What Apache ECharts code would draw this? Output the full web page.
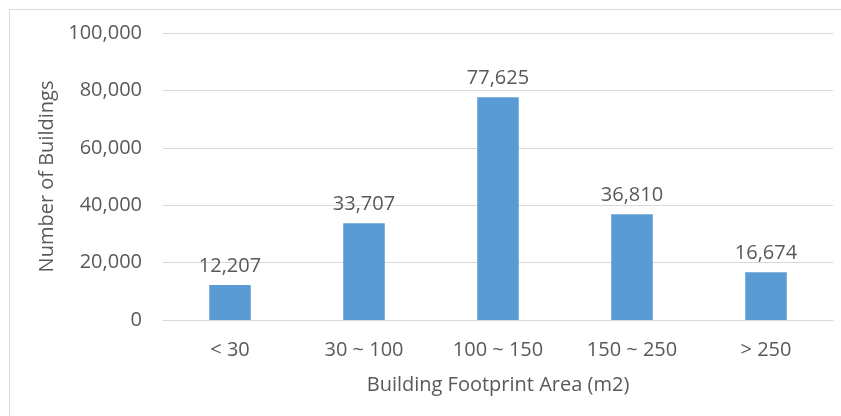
<!DOCTYPE html>
<html>
<head>
<meta charset="utf-8">
<script src="https://cdn.jsdelivr.net/npm/echarts@6/dist/echarts.min.js"></script>
<style>
  html, body { margin: 0; padding: 0; background: #fff; }
  #chart { width: 841px; height: 416px; }
</style>
</head>
<body>
<div id="chart"></div>
<script>
var categories = ['< 30', '30 ~ 100', '100 ~ 150', '150 ~ 250', '> 250'];
var buildingCounts = [12207, 33707, 77625, 36810, 16674];
var yTicks = { min: 0, max: 100000, interval: 20000 };

var textColor = '#595959';
var fontFamily = '"Open Sans", "Noto Sans", sans-serif';

var myChart = echarts.init(document.getElementById('chart'));

var option = {
    animation: false,
    backgroundColor: '#fff',
    textStyle: { fontFamily: fontFamily, color: textColor },
    graphic: [{
        type: 'rect',
        shape: { x: 9.5, y: 9.5, width: 840, height: 420 },
        style: { fill: 'none', stroke: '#d9d9d9', lineWidth: 1 },
        silent: true
    }],
    grid: { left: 163, right: 8, top: 33, bottom: 96, containLabel: false },
    xAxis: {
        type: 'category',
        data: categories,
        name: 'Building Footprint Area (m2)',
        nameLocation: 'middle',
        nameGap: 55,
        nameTextStyle: { fontSize: 20, color: textColor, fontFamily: fontFamily },
        axisLine: { lineStyle: { color: '#d9d9d9', width: 1 } },
        axisTick: { show: false },
        axisLabel: { fontSize: 20, color: textColor, margin: 20, fontFamily: fontFamily }
    },
    yAxis: {
        type: 'value',
        min: yTicks.min,
        max: yTicks.max,
        interval: yTicks.interval,
        name: 'Number of Buildings',
        nameLocation: 'middle',
        nameGap: 101,
        nameTextStyle: { fontSize: 20, color: textColor, fontFamily: fontFamily },
        axisLine: { show: false },
        axisTick: { show: false },
        splitLine: { lineStyle: { color: '#d9d9d9', width: 1 } },
        axisLabel: {
            fontSize: 20,
            color: textColor,
            margin: 21,
            fontFamily: fontFamily,
            formatter: function (v) { return v.toLocaleString('en-US'); }
        }
    },
    series: [{
        type: 'bar',
        data: buildingCounts,
        barWidth: '31%',
        itemStyle: { color: '#5b9bd5' },
        label: {
            show: true,
            position: 'top',
            distance: 9,
            fontSize: 20,
            color: textColor,
            fontFamily: fontFamily,
            formatter: function (p) { return p.value.toLocaleString('en-US'); }
        }
    }]
};

myChart.setOption(option);
</script>
</body>
</html>
